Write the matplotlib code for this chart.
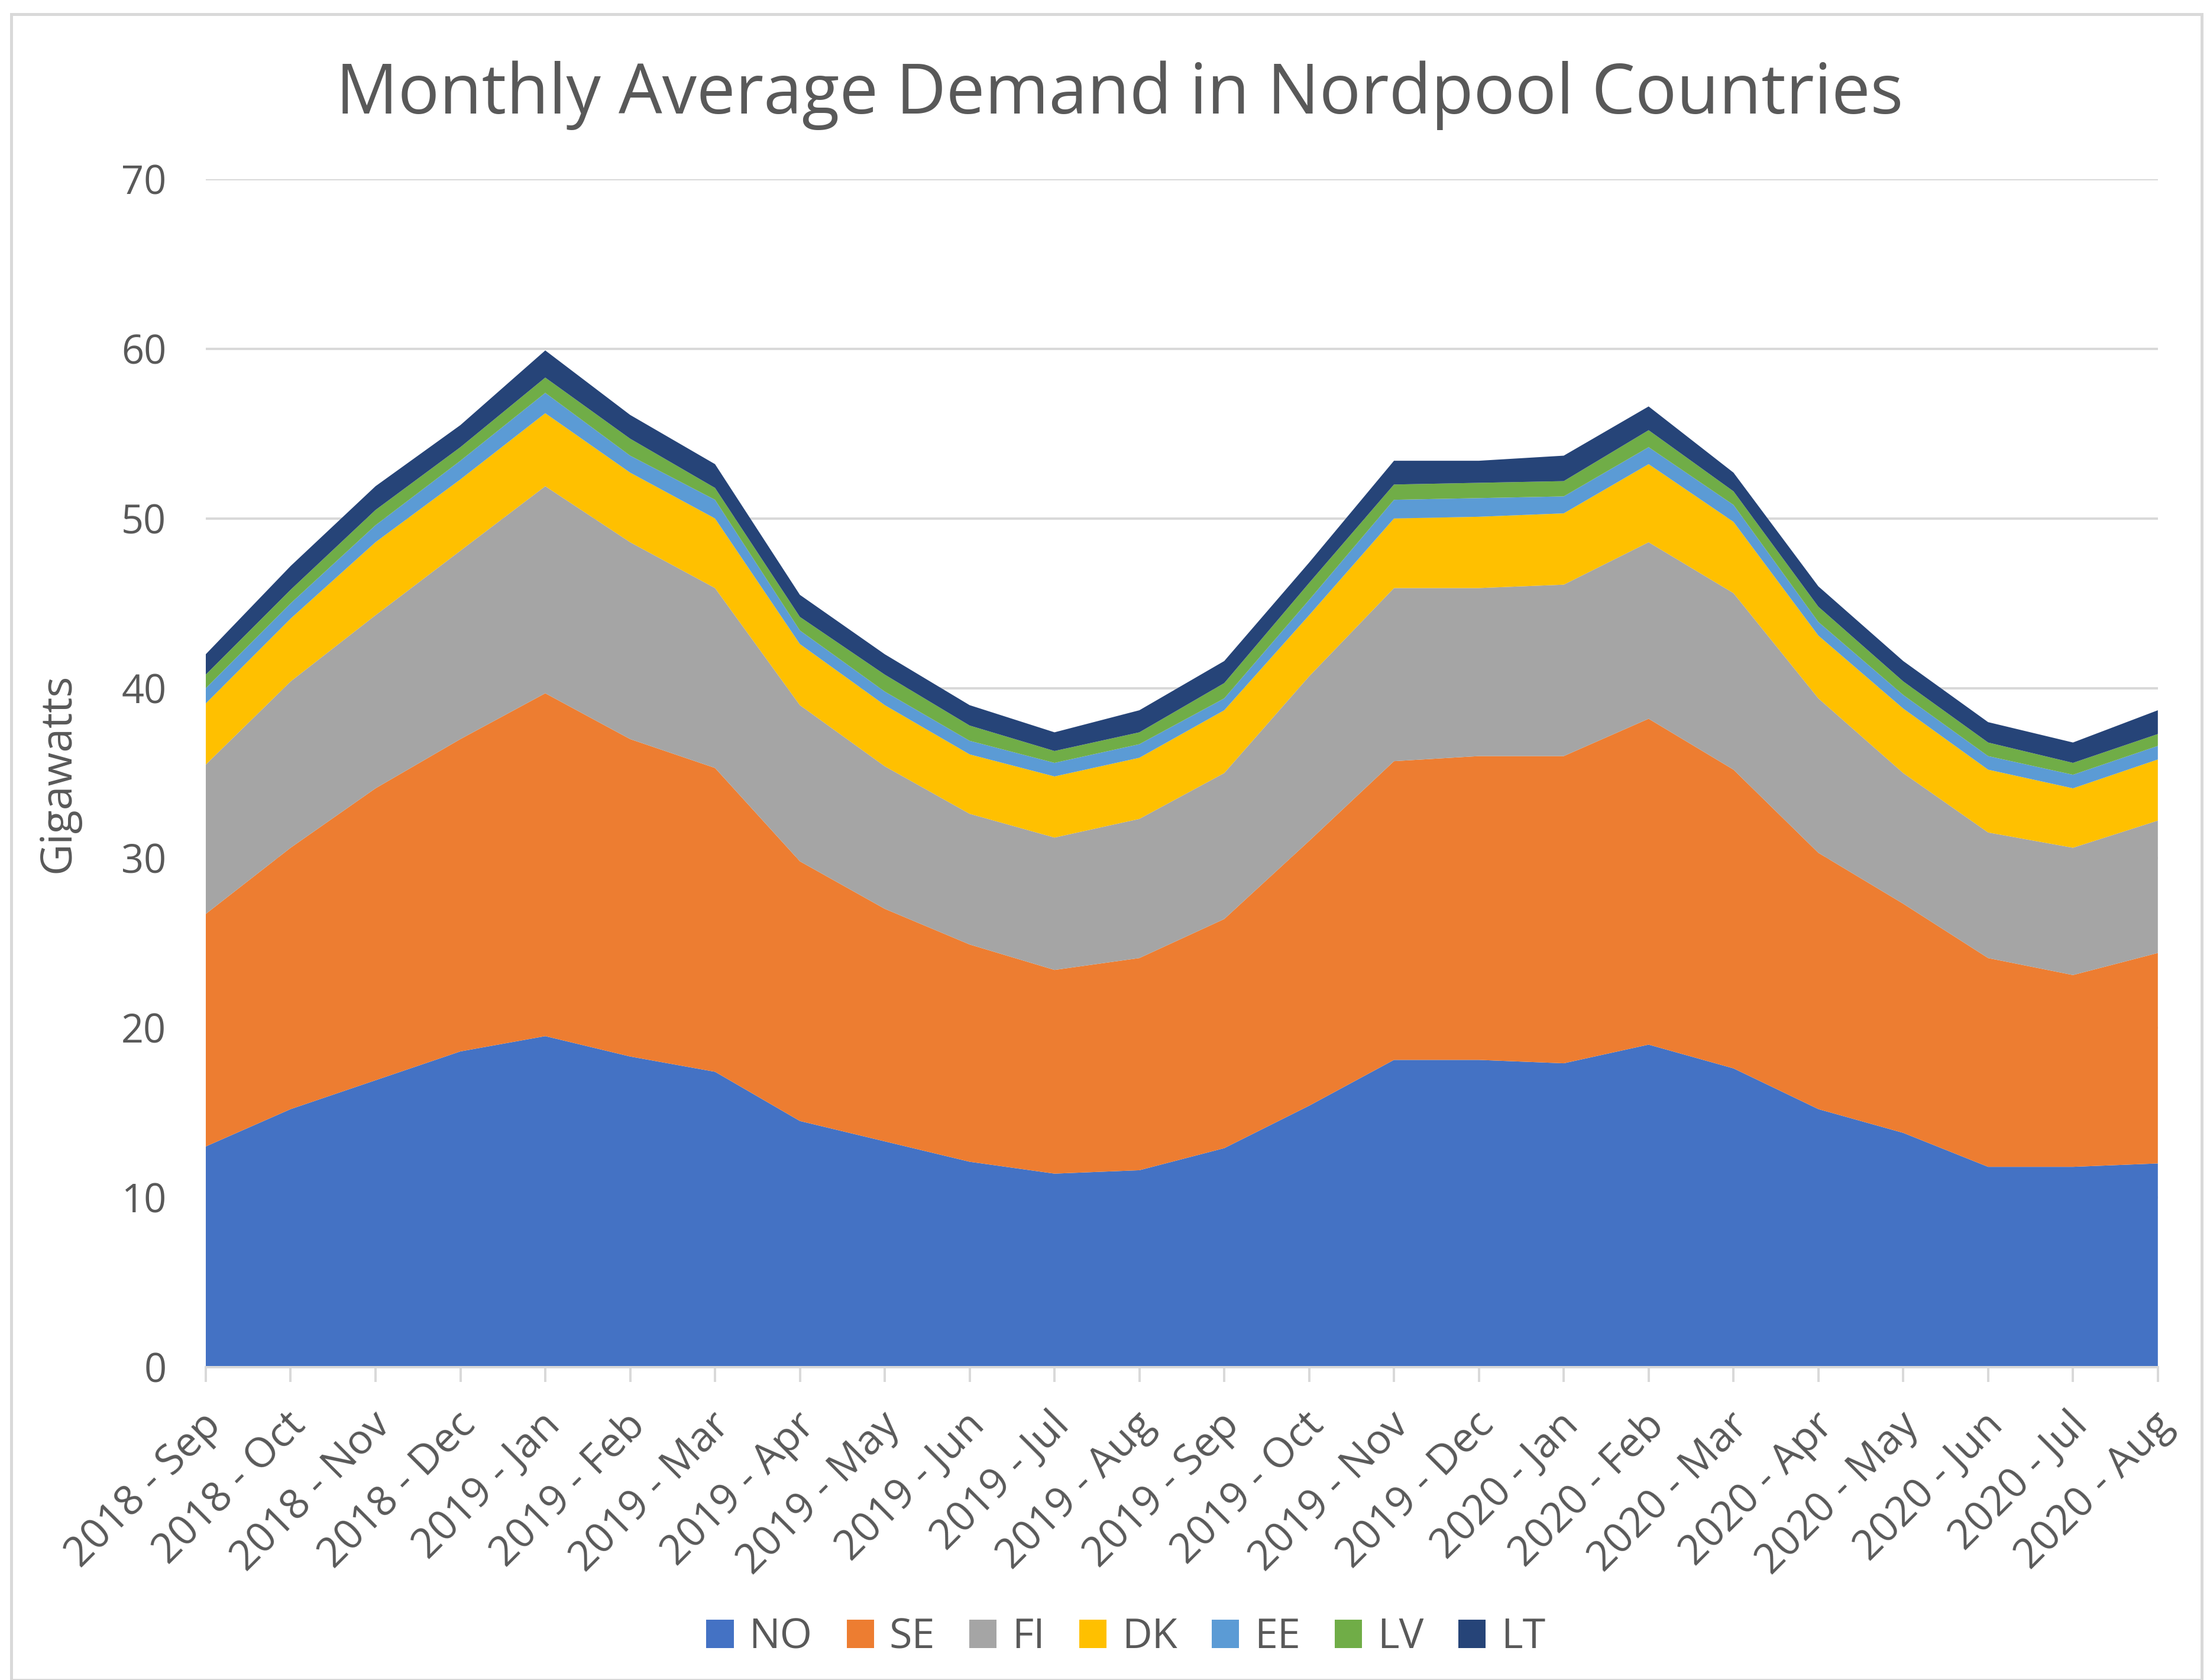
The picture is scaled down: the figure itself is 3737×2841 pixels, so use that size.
import matplotlib
matplotlib.use("Agg")
import matplotlib.pyplot as plt
from matplotlib.patches import Rectangle
from matplotlib.transforms import ScaledTranslation
import numpy as np

months = ["2018 - Sep", "2018 - Oct", "2018 - Nov", "2018 - Dec", "2019 - Jan", "2019 - Feb",
          "2019 - Mar", "2019 - Apr", "2019 - May", "2019 - Jun", "2019 - Jul", "2019 - Aug",
          "2019 - Sep", "2019 - Oct", "2019 - Nov", "2019 - Dec", "2020 - Jan", "2020 - Feb",
          "2020 - Mar", "2020 - Apr", "2020 - May", "2020 - Jun", "2020 - Jul", "2020 - Aug"]

NO = [13.0, 15.2, 16.9, 18.6, 19.5, 18.3, 17.4, 14.5, 13.3, 12.1, 11.4, 11.6,
      12.9, 15.4, 18.1, 18.1, 17.9, 19.0, 17.6, 15.2, 13.8, 11.8, 11.8, 12.0]
SE = [13.7, 15.4, 17.2, 18.4, 20.2, 18.7, 17.9, 15.3, 13.7, 12.8, 12.0, 12.5,
      13.5, 15.6, 17.6, 17.9, 18.1, 19.2, 17.6, 15.1, 13.5, 12.3, 11.3, 12.4]
FI = [8.8, 9.8, 10.2, 11.1, 12.2, 11.6, 10.6, 9.2, 8.4, 7.7, 7.8, 8.2,
      8.6, 9.7, 10.2, 9.9, 10.1, 10.4, 10.4, 9.1, 7.7, 7.4, 7.5, 7.8]
DK = [3.6, 3.7, 4.3, 4.2, 4.3, 4.1, 4.1, 3.6, 3.6, 3.5, 3.6, 3.6,
      3.7, 3.6, 4.1, 4.2, 4.2, 4.6, 4.2, 3.7, 3.8, 3.7, 3.5, 3.6]
EE = [0.9, 0.9, 1.0, 1.1, 1.2, 1.0, 1.1, 0.8, 0.8, 0.8, 0.8, 0.8,
      0.7, 0.9, 1.1, 1.1, 1.0, 1.0, 1.0, 0.8, 0.8, 0.8, 0.8, 0.8]
LV = [0.8, 0.8, 0.9, 0.8, 0.9, 1.0, 0.7, 0.8, 1.0, 0.9, 0.7, 0.7,
      0.9, 1.0, 0.9, 0.9, 0.9, 1.0, 0.8, 0.9, 0.8, 0.8, 0.7, 0.7]
LT = [1.2, 1.4, 1.4, 1.3, 1.6, 1.4, 1.4, 1.3, 1.2, 1.2, 1.1, 1.3,
      1.3, 1.2, 1.4, 1.3, 1.5, 1.4, 1.1, 1.2, 1.2, 1.2, 1.2, 1.4]

series_names = ["NO", "SE", "FI", "DK", "EE", "LV", "LT"]
series_vals = [NO, SE, FI, DK, EE, LV, LT]
colors = ["#4472C4", "#ED7D31", "#A5A5A5", "#FFC000", "#5B9BD5", "#70AD47", "#264478"]
yticks = [0, 10, 20, 30, 40, 50, 60, 70]

plt.rcParams['font.family'] = ['Open Sans', 'DejaVu Sans']
text_color = "#595959"
grid_color = "#D9D9D9"

fig = plt.figure(figsize=(3737 / 240, 2841 / 240), dpi=240)
ax = fig.add_axes([146 / 1568, 1 - 970 / 1192, (1531 - 146) / 1568, (970 - 127) / 1192])

x = np.arange(len(months))
ax.stackplot(x, *series_vals, colors=colors, labels=series_names, linewidth=0)

ax.set_xlim(0, len(months) - 1)
ax.set_ylim(0, 70)
ax.set_yticks(yticks)
ax.set_yticklabels([str(t) for t in yticks])
ax.set_xticks(x)
ax.set_xticklabels(months, rotation=45, ha='right', va='center', rotation_mode='anchor')
ax.tick_params(axis='y', length=0, labelsize=20, colors=text_color, pad=20)
ax.tick_params(axis='x', length=7.5, width=1.2, color=grid_color, direction='out',
               labelsize=21, labelcolor=text_color, pad=19)
shift = ScaledTranslation(4.6 / 72, 0, fig.dpi_scale_trans)
for lab in ax.get_xticklabels():
    lab.set_transform(lab.get_transform() + shift)
ax.grid(axis='y', color=grid_color, linewidth=1.2)
ax.set_axisbelow(True)
for s in ["top", "right", "left"]:
    ax.spines[s].set_visible(False)
ax.spines["bottom"].set_color(grid_color)
ax.spines["bottom"].set_linewidth(1.2)

ax.set_ylabel("Gigawatts", fontsize=22, color=text_color)
ax.yaxis.set_label_coords((57 - 146) / 1385, 0.5)

fig.text(0.5066, 1 - 80.5 / 1192, "Monthly Average Demand in Nordpool Countries",
         ha='center', va='baseline', fontsize=35, color=text_color)

handles, labels = ax.get_legend_handles_labels()
fig.legend(handles, labels, loc='center', bbox_to_anchor=(0.5094, 1 - 1162 / 1192), ncol=7,
           frameon=False, fontsize=21, labelcolor=text_color, handlelength=0.66,
           handleheight=0.66, handletextpad=0.37, columnspacing=0.83)

fig.patches.append(Rectangle((8 / 1568, 0.0), 1 - 14 / 1568, 1 - 10 / 1192,
                             transform=fig.transFigure, fill=False,
                             edgecolor=grid_color, linewidth=1.5))

fig.savefig("out.png", dpi=240)
